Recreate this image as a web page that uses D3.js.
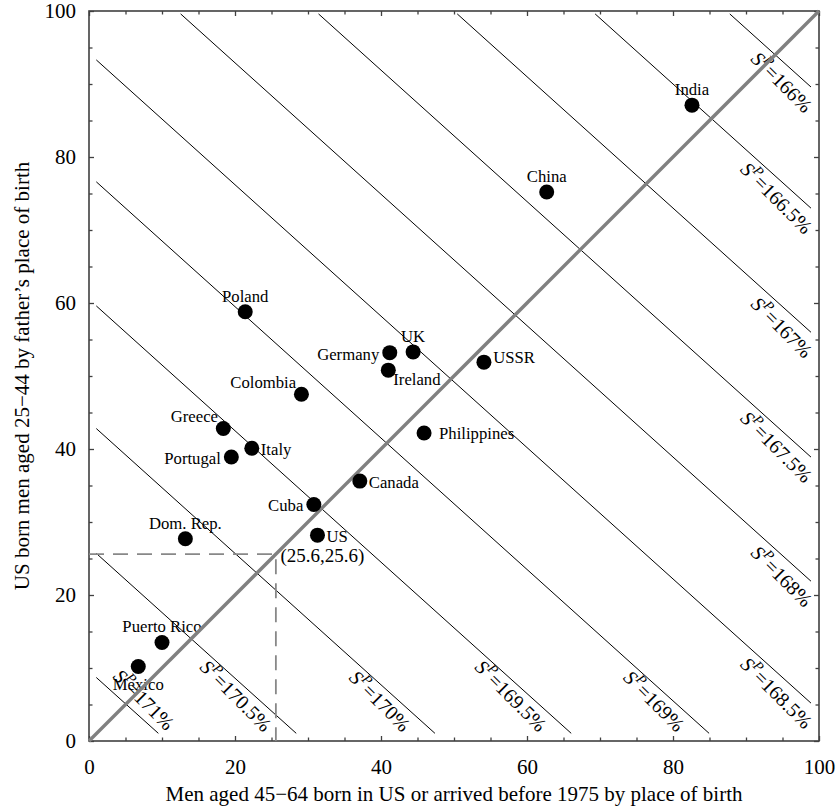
<!DOCTYPE html>
<html>
<head>
<meta charset="utf-8">
<script src="https://cdn.jsdelivr.net/npm/d3@7"></script>
<style>
  html, body { margin: 0; padding: 0; background: #fff; }
  svg { display: block; }
  text { font-family: "Liberation Serif", "Times New Roman", serif; fill: #000; }
</style>
</head>
<body>
<svg id="chart" width="838" height="811"></svg>
<script>
// ---------------- data ----------------
const countries = ["Mexico","Puerto Rico","Dom. Rep.","Portugal","Italy","Greece","Poland","Colombia","Cuba","US","Canada","Germany","Ireland","UK","USSR","Philippines","China","India"];
const fatherBirthShare = [10.2, 13.5, 27.7, 38.9, 40.1, 42.8, 58.8, 47.5, 32.4, 28.2, 35.6, 53.2, 50.8, 53.3, 51.9, 42.2, 75.2, 87.1];
const menBirthShare    = [6.75, 10.0, 13.2, 19.5, 22.3, 18.4, 21.4, 29.1, 30.8, 31.3, 37.1, 41.2, 41.0, 44.4, 54.1, 45.9, 62.7, 82.6];
const labelPlacement = ["below","above","above","left","right","upperLeft","above","upperLeft","left","right","right","left","lowerRight","above","rightHigh","rightFar","above","above"];

const contourLevels     = ["171%","170.5%","170%","169.5%","169%","168.5%","168%","167.5%","167%","166.5%","166%"];
const contourIntercepts = [9.6, 26.6, 43.7, 60.5, 77.5, 94.2, 110.9, 127.9, 145.0, 162.0, 178.6];
const contourSlope = -0.9;

const refPoint = 25.6;
const refLabel = "(25.6,25.6)";
const majorTicks = [0, 20, 40, 60, 80, 100];
const minorTicks = [5, 10, 15, 25, 30, 35, 45, 50, 55, 65, 70, 75, 85, 90, 95];

const xTitle = "Men aged 45\u221264 born in US or arrived before 1975 by place of birth";
const yTitle = "US born men aged 25\u221244 by father\u2019s place of birth";

// ---------------- layout ----------------
const svg = d3.select("#chart");
const L = 89, R = 819, T = 11, B = 741;
const x = d3.scaleLinear().domain([0, 100]).range([L, R]);
const y = d3.scaleLinear().domain([0, 100]).range([B, T]);
const axisColor = "#404040";

svg.append("rect").attr("width", 838).attr("height", 811).attr("fill", "#fff");

// axes: major ticks with labels, inward
svg.append("g").attr("transform", `translate(0,${B})`)
  .call(d3.axisBottom(x).tickValues(majorTicks).tickSizeInner(-5).tickSizeOuter(0).tickPadding(18).tickFormat(d3.format("d")));
svg.append("g").attr("transform", `translate(${L},0)`)
  .call(d3.axisLeft(y).tickValues(majorTicks).tickSizeInner(-5).tickSizeOuter(0).tickPadding(13).tickFormat(d3.format("d")));
svg.append("g").attr("transform", `translate(0,${T})`)
  .call(d3.axisTop(x).tickValues(majorTicks).tickSizeInner(-5).tickSizeOuter(0).tickFormat(""));
svg.append("g").attr("transform", `translate(${R},0)`)
  .call(d3.axisRight(y).tickValues(majorTicks).tickSizeInner(-5).tickSizeOuter(0).tickFormat(""));
// minor ticks
svg.append("g").attr("transform", `translate(0,${B})`).call(d3.axisBottom(x).tickValues(minorTicks).tickSizeInner(-3.5).tickSizeOuter(0).tickFormat(""));
svg.append("g").attr("transform", `translate(${L},0)`).call(d3.axisLeft(y).tickValues(minorTicks).tickSizeInner(-3.5).tickSizeOuter(0).tickFormat(""));
svg.append("g").attr("transform", `translate(0,${T})`).call(d3.axisTop(x).tickValues(minorTicks).tickSizeInner(-3.5).tickSizeOuter(0).tickFormat(""));
svg.append("g").attr("transform", `translate(${R},0)`).call(d3.axisRight(y).tickValues(minorTicks).tickSizeInner(-3.5).tickSizeOuter(0).tickFormat(""));

svg.selectAll(".domain").remove();
svg.selectAll(".tick line").attr("stroke", axisColor).attr("stroke-width", 1.3);
svg.selectAll(".tick text").attr("font-family", "Liberation Serif").attr("font-size", 21).attr("fill", "#000");

// frame
svg.append("rect").attr("x", L).attr("y", T).attr("width", R - L).attr("height", B - T)
  .attr("fill", "none").attr("stroke", axisColor).attr("stroke-width", 1.6);

// axis titles
svg.append("text").attr("x", (L + R) / 2).attr("y", 800.5).attr("text-anchor", "middle")
  .attr("font-size", 21).text(xTitle);
svg.append("text").attr("transform", `translate(28.5,${(T + B) / 2}) rotate(-90)`).attr("text-anchor", "middle")
  .attr("font-size", 21).text(yTitle);

// ---------------- contour lines ----------------
const xMinC = 1.0, xMaxC = 98.9, yMinC = 1.05, yMaxC = 99.6;
const contours = contourLevels.map((lvl, i) => {
  const a = contourIntercepts[i];
  const yAt = xv => a + contourSlope * xv;
  const xAt = yv => (yv - a) / contourSlope;
  const p0 = yAt(xMinC) <= yMaxC ? [xMinC, yAt(xMinC)] : [xAt(yMaxC), yMaxC];
  const p1 = xAt(yMinC) <= xMaxC ? [xAt(yMinC), yMinC] : [xMaxC, yAt(xMaxC)];
  const endsRight = xAt(yMinC) > xMaxC;
  return { lvl, a, p0, p1, endsRight, idx: i };
});

svg.append("g").selectAll("line").data(contours).join("line")
  .attr("x1", d => x(d.p0[0])).attr("y1", d => y(d.p0[1]))
  .attr("x2", d => x(d.p1[0])).attr("y2", d => y(d.p1[1]))
  .attr("stroke", "#000").attr("stroke-width", 1);

// contour labels
const cFont = 20;
const cl = svg.append("g").selectAll("text").data(contours).join("text")
  .attr("font-size", cFont)
  .attr("text-anchor", "end")
  .attr("transform", d => {
    let bx, by;
    if (d.idx === 0) { bx = d.p1[0] + 1.05; by = 1.3; }
    else if (d.endsRight) { bx = d.p1[0] - 0.96; by = d.p1[1] - 3.7; }
    else { bx = d.p1[0] - 4.5; by = 1.1; }
    return `translate(${x(bx)},${y(by)}) rotate(45)`;
  });
cl.append("tspan").attr("font-style", "italic").text("S");
cl.append("tspan").attr("font-style", "italic").attr("font-size", cFont * 0.7).attr("dy", -cFont * 0.42).text("P");
cl.append("tspan").attr("dy", cFont * 0.42).text(d => "=" + d.lvl);

// dashed reference lines
svg.append("path")
  .attr("d", `M${x(0)},${y(refPoint)}H${x(refPoint)}V${y(0)}`)
  .attr("fill", "none").attr("stroke", "#888").attr("stroke-width", 1.8).attr("stroke-dasharray", "15,9");

// point labels
const pts = countries.map((c, i) => ({ c, px: menBirthShare[i], py: fatherBirthShare[i], place: labelPlacement[i] }));
const placeSpec = {
  below:      { anchor: "middle", dx: 0,    dy: 23.5 },
  above:      { anchor: "middle", dx: 0,    dy: -10 },
  left:       { anchor: "end",    dx: -10.5, dy: 7 },
  right:      { anchor: "start",  dx: 9,    dy: 6.5 },
  rightFar:   { anchor: "start",  dx: 15,   dy: 6.5 },
  rightHigh:  { anchor: "start",  dx: 9.3,  dy: 0.5 },
  upperLeft:  { anchor: "end",    dx: -5.3, dy: -6.7 },
  lowerRight: { anchor: "start",  dx: 5,    dy: 15 }
};
svg.append("g").selectAll("text").data(pts).join("text")
  .attr("font-size", 16.7)
  .attr("text-anchor", d => placeSpec[d.place].anchor)
  .attr("x", d => x(d.px) + placeSpec[d.place].dx)
  .attr("y", d => y(d.py) + placeSpec[d.place].dy)
  .text(d => d.c);

// reference coordinate label (under US)
const usIdx = countries.indexOf("US");
svg.append("text").attr("font-size", 19)
  .attr("x", x(refPoint) + 4.5).attr("y", y(fatherBirthShare[usIdx]) + 26.5)
  .text(refLabel);

// diagonal
svg.append("line")
  .attr("x1", x(0)).attr("y1", y(0)).attr("x2", x(100)).attr("y2", y(100))
  .attr("stroke", "#808080").attr("stroke-width", 3.4);

// points
svg.append("g").selectAll("circle").data(pts).join("circle")
  .attr("cx", d => x(d.px)).attr("cy", d => y(d.py)).attr("r", 7.5).attr("fill", "#000");
</script>
</body>
</html>
